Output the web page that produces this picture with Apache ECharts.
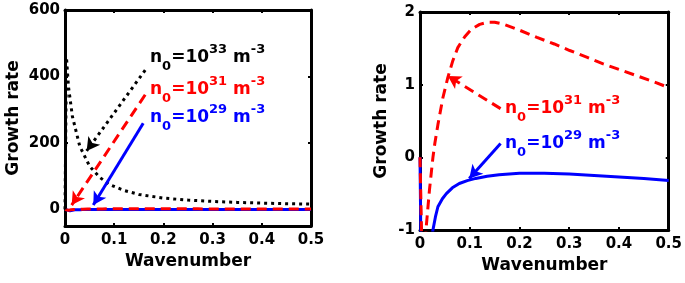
<!DOCTYPE html>
<html>
<head>
<meta charset="utf-8">
<script src="https://cdn.jsdelivr.net/npm/echarts@6.0.0/dist/echarts.min.js"></script>
<style>
  html, body { margin: 0; padding: 0; background: #fff; }
  #chart { width: 685px; height: 283px; }
</style>
</head>
<body>
<div id="chart"></div>
<script>
// n0 = 1e33 (black dotted), left panel only
const k33 = [0, 0.003, 0.007, 0.015, 0.03, 0.05, 0.07, 0.09, 0.12, 0.15, 0.2, 0.25, 0.3, 0.35, 0.4, 0.45, 0.5];
const g33 = [0, 457, 370, 280, 190, 130, 97, 75, 57, 45, 34, 28, 24, 21, 19, 17, 16];

// n0 = 1e31 (red dashed)
const k31 = [0, 0.004, 0.007, 0.012, 0.019, 0.026, 0.03, 0.036, 0.046, 0.056, 0.066, 0.076, 0.09, 0.103, 0.12, 0.136, 0.15, 0.169, 0.2, 0.235, 0.27, 0.301, 0.335, 0.367, 0.4, 0.433, 0.47, 0.5];
const g31 = [0, -1.3, -3, -1, -0.45, 0, 0.2, 0.45, 0.82, 1.1, 1.33, 1.51, 1.66, 1.76, 1.83, 1.86, 1.86, 1.83, 1.75, 1.65, 1.56, 1.47, 1.38, 1.29, 1.21, 1.13, 1.04, 0.96];

// n0 = 1e29 (blue solid)
const k29 = [0, 0.002, 0.01, 0.02, 0.026, 0.031, 0.036, 0.045, 0.053, 0.065, 0.079, 0.095, 0.112, 0.135, 0.159, 0.2, 0.25, 0.3, 0.35, 0.4, 0.45, 0.5];
const g29 = [0, -1.3, -4, -1.3, -1, -0.82, -0.68, -0.57, -0.5, -0.42, -0.36, -0.32, -0.29, -0.26, -0.24, -0.22, -0.22, -0.23, -0.25, -0.27, -0.29, -0.32];

// tick labels
const xTicks = [0, 0.1, 0.2, 0.3, 0.4, 0.5];
const yTicksLeft = [0, 200, 400, 600];
const yTicksRight = [-1, 0, 1, 2];

// annotation arrows [x1, y1, x2, y2] (tail -> head, data units)
const arrowLeft33 = [0.163, 419, 0.044, 176];
const arrowLeft31 = [0.163, 345, 0.0136, 13];
const arrowLeft29 = [0.159, 259, 0.0575, 13];
const arrowRight31 = [0.162, 0.67, 0.056, 1.12];
const arrowRight29 = [0.162, 0.19, 0.099, -0.29];

const FONT = 'DejaVu Sans';
const RED = '#ff0000';
const BLUE = '#0000ff';

function pairs(xs, ys) {
  return xs.map((x, i) => [x, ys[i]]);
}

function arrow(a, color, type) {
  return {
    silent: true,
    symbol: ['none', 'arrow'],
    symbolSize: [11, 13],
    label: { show: false },
    lineStyle: { color: color, width: 3, type: type },
    data: [[{ coord: [a[0], a[1]] }, { coord: [a[2], a[3]] }]],
  };
}

const frameLine = { show: true, onZero: false, lineStyle: { color: '#000', width: 3 } };
const frameTick = { show: true, inside: true, length: 3, lineStyle: { color: '#000', width: 2 } };

function xAxes(grid, nameGap) {
  return [
    {
      gridIndex: grid,
      type: 'value',
      min: 0,
      max: 0.5,
      interval: 0.1,
      name: 'Wavenumber',
      nameLocation: 'middle',
      nameGap: nameGap,
      nameTextStyle: { fontFamily: FONT, fontWeight: 'bold', fontSize: 17, color: '#000' },
      axisLine: frameLine,
      axisTick: frameTick,
      axisLabel: { fontFamily: FONT, fontWeight: 'bold', fontSize: 15, color: '#000', margin: 7, customValues: xTicks },
      splitLine: { show: false },
    },
    {
      gridIndex: grid,
      type: 'value',
      position: 'top',
      min: 0,
      max: 0.5,
      interval: 0.1,
      axisLine: frameLine,
      axisTick: frameTick,
      axisLabel: { show: false },
      splitLine: { show: false },
    },
  ];
}

function yAxes(grid, min, max, ticks, nameGap) {
  return [
    {
      gridIndex: grid,
      type: 'value',
      min: min,
      max: max,
      name: 'Growth rate',
      nameLocation: 'middle',
      nameGap: nameGap,
      nameTextStyle: { fontFamily: FONT, fontWeight: 'bold', fontSize: 17, color: '#000' },
      axisLine: frameLine,
      axisTick: Object.assign({ customValues: ticks }, frameTick),
      axisLabel: { fontFamily: FONT, fontWeight: 'bold', fontSize: 15, color: '#000', margin: 5, customValues: ticks },
      splitLine: { show: false },
    },
    {
      gridIndex: grid,
      type: 'value',
      position: 'right',
      min: min,
      max: max,
      axisLine: frameLine,
      axisTick: Object.assign({ customValues: ticks }, frameTick),
      axisLabel: { show: false },
      splitLine: { show: false },
    },
  ];
}

function label(left, top, color, exp) {
  return {
    type: 'text',
    left: left,
    top: top,
    silent: true,
    style: {
      text: '{b|n}{sub|0}{b|=10}{sup|' + exp + '}{b| m}{sup|-3}',
      fill: color,
      rich: {
        b: { fontFamily: FONT, fontWeight: 'bold', fontSize: 17, lineHeight: 30, fill: color, verticalAlign: 'middle' },
        sup: { fontFamily: FONT, fontWeight: 'bold', fontSize: 13, lineHeight: 13, fill: color, verticalAlign: 'top' },
        sub: { fontFamily: FONT, fontWeight: 'bold', fontSize: 13, lineHeight: 13, fill: color, verticalAlign: 'bottom' },
      },
    },
  };
}

const chart = echarts.init(document.getElementById('chart'));

chart.setOption({
  animation: false,
  backgroundColor: '#fff',
  grid: [
    { left: 65, top: 10, width: 246, height: 216 },
    { left: 420, top: 12, width: 252, height: 218 },
  ],
  xAxis: [...xAxes(0, 22), ...xAxes(1, 27)],
  yAxis: [...yAxes(0, -50, 600, yTicksLeft, 43), ...yAxes(1, -1, 2, yTicksRight, 30)],
  series: [
    // left panel
    {
      type: 'line', xAxisIndex: 0, yAxisIndex: 0, showSymbol: false, z: 2,
      data: pairs(k29, g29),
      lineStyle: { color: BLUE, width: 3 },
      markLine: arrow(arrowLeft29, BLUE, 'solid'),
    },
    {
      type: 'line', xAxisIndex: 0, yAxisIndex: 0, showSymbol: false, z: 3,
      data: pairs(k31, g31),
      lineStyle: { color: RED, width: 3, type: [10, 6] },
      markLine: arrow(arrowLeft31, RED, [10, 6]),
    },
    {
      type: 'line', xAxisIndex: 0, yAxisIndex: 0, showSymbol: false, z: 4,
      data: pairs(k33, g33),
      lineStyle: { color: '#000', width: 3, type: [3, 4] },
      markLine: arrow(arrowLeft33, '#000', [3, 4]),
    },
    // right panel
    {
      type: 'line', xAxisIndex: 2, yAxisIndex: 2, showSymbol: false, z: 2,
      data: pairs(k29, g29),
      lineStyle: { color: BLUE, width: 3 },
      markLine: arrow(arrowRight29, BLUE, 'solid'),
    },
    {
      type: 'line', xAxisIndex: 2, yAxisIndex: 2, showSymbol: false, z: 3,
      data: pairs(k31, g31),
      lineStyle: { color: RED, width: 3, type: [10, 6] },
      markLine: arrow(arrowRight31, RED, [10, 6]),
    },
  ],
  graphic: [
    label(150, 43, '#000', '33'),
    label(150, 75, RED, '31'),
    label(150, 103, BLUE, '29'),
    label(505, 94, RED, '31'),
    label(505, 129, BLUE, '29'),
  ],
});
</script>
</body>
</html>
